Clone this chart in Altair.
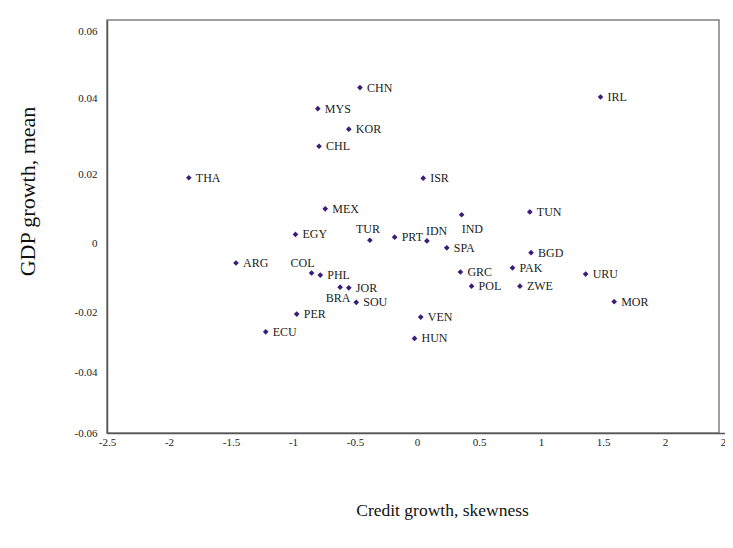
import altair as alt
import pandas as pd

countries = ["CHN", "MYS", "KOR", "CHL", "THA", "MEX", "IRL", "ISR", "TUN", "IND",
             "IDN", "SPA", "BGD", "EGY", "TUR", "PRT", "ARG", "COL", "PHL", "BRA",
             "JOR", "SOU", "PER", "ECU", "VEN", "HUN", "GRC", "POL", "PAK", "ZWE",
             "URU", "MOR"]
credit_skew = [-0.46, -0.80, -0.55, -0.79, -1.84, -0.74, 1.48, 0.05, 0.91, 0.36,
               0.08, 0.24, 0.92, -0.98, -0.38, -0.18, -1.46, -0.85, -0.78, -0.62,
               -0.55, -0.49, -0.97, -1.22, 0.03, -0.02, 0.35, 0.44, 0.77, 0.83,
               1.36, 1.59]
gdp_mean = [0.0431, 0.0372, 0.0318, 0.0273, 0.0189, 0.0099, 0.0403, 0.0188, 0.0090, 0.0082,
            0.0006, -0.0014, -0.0028, 0.0025, 0.0008, 0.0017, -0.0058, -0.0087, -0.0093, -0.0128,
            -0.0130, -0.0172, -0.0207, -0.0266, -0.0217, -0.0288, -0.0084, -0.0125, -0.0072, -0.0125,
            -0.0090, -0.0170]

x_ticks = [-2.5, -2, -1.5, -1, -0.5, 0, 0.5, 1, 1.5, 2, 2.5]
y_ticks = [-0.06, -0.04, -0.02, 0, 0.02, 0.04, 0.06]

# label placement (style, not data)
special = {"TUR": "above", "IDN": "aboveright", "IND": "belowright",
           "COL": "aboveleft", "BRA": "below"}

df = pd.DataFrame({"country": countries, "x": credit_skew, "y": gdp_mean})
df["pos"] = [special.get(c, "right") for c in countries]

FONT = "Liberation Serif, Times New Roman, serif"
MARK = "#3a1d78"
lab_expr = "(datum.value < 0 ? '-' : '') + format(abs(datum.value), '~g')"

# the original figure's vertical axis is slightly uneven; follow its tick spacing
y_dom = [-0.06, -0.04, -0.02, 0, 0.02, 0.04, 0.06, 0.0633]
y_rng = [413, 352, 292, 223, 154, 78, 11, 0]

xenc = alt.X("x:Q", scale=alt.Scale(domain=[-2.5, 2.5], nice=False, zero=False, range=[0, 620]),
             axis=alt.Axis(values=x_ticks, labelExpr=lab_expr, title="Credit growth, skewness",
                           labelPadding=3, labelFlush=False, titleX=335, titleY=77,
                           titleBaseline="middle", titleFontSize=17.5))
yenc = alt.Y("y:Q", scale=alt.Scale(domain=y_dom, range=y_rng, nice=False, zero=False),
             axis=alt.Axis(values=y_ticks, labelExpr=lab_expr, title="GDP growth, mean",
                           labelPadding=10, labelFlush=False,
                           titleX=-80, titleY=171, titleBaseline="middle", titleFontSize=22))

base = alt.Chart(df).encode(x=xenc, y=yenc)

points = base.mark_point(shape="diamond", filled=True, size=32, color=MARK, opacity=1)

def txt(pos, **kw):
    return base.transform_filter(alt.datum.pos == pos).mark_text(
        font=FONT, fontSize=12, color="#222222", **kw).encode(text="country:N")

layers = [
    points,
    txt("right", align="left", baseline="middle", dx=7),
    txt("above", align="center", baseline="middle", dx=-2, dy=-11),
    txt("aboveright", align="left", baseline="middle", dx=-1, dy=-10),
    txt("belowright", align="left", baseline="middle", dx=0, dy=14),
    txt("aboveleft", align="right", baseline="middle", dx=3, dy=-10),
    txt("below", align="center", baseline="middle", dx=-2, dy=11),
]

chart = alt.layer(*layers).properties(
    width=612, height=413,
    autosize=alt.AutoSizeParams(type="none"),
    padding={"left": 99, "top": 12, "right": 6, "bottom": 95},
).configure(
    font=FONT
).configure_view(
    stroke="#808080", strokeWidth=1.5
).configure_axis(
    labelFont=FONT, labelFontSize=11, labelColor="#222222",
    titleFont=FONT, titleFontSize=18, titleFontWeight="normal", titleColor="#111111",
    grid=False, ticks=False, domainColor="#555555", domainWidth=1.5
)

chart.save("out.html", embed_options={"renderer": "svg", "actions": False})
